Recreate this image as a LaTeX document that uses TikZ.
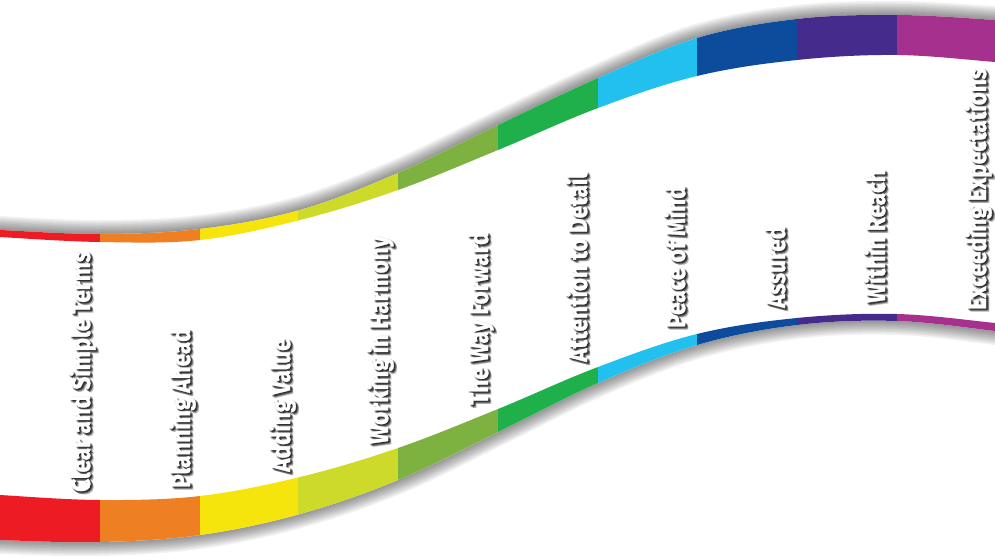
\documentclass[tikz,border=0pt]{standalone}
\usepackage{fontspec}
\newfontfamily\lblfont{Fira Sans}[BoldFeatures={FakeBold=1.3}]
\definecolor{cA}{HTML}{ED1C24}
\definecolor{cB}{HTML}{EE7F22}
\definecolor{cC}{HTML}{F5E50C}
\definecolor{cD}{HTML}{CEDA2A}
\definecolor{cE}{HTML}{7DB240}
\definecolor{cF}{HTML}{1FB04B}
\definecolor{cG}{HTML}{22C0EF}
\definecolor{cH}{HTML}{0D4C9C}
\definecolor{cI}{HTML}{452C8C}
\definecolor{cJ}{HTML}{A6308E}
\def\ribbonpath{plot[smooth,tension=0.6] coordinates {(-40,228) (0,230) (100,234) (200,229) (300,210) (398,173) (498,125) (598,78) (697,38) (797,19) (897,15) (995,20) (1040,24)} -- plot[smooth,tension=0.6] coordinates {(1040,337) (995,331) (897,321) (797,325) (697,345) (598,383) (498,432) (398,480) (300,514) (200,535) (100,542) (0,540) (-40,537)} -- cycle}
\def\topband{plot[smooth,tension=0.6] coordinates {(-40,228) (0,230) (100,234) (200,229) (300,210) (398,173) (498,125) (598,78) (697,38) (797,19) (897,15) (995,20) (1040,24)} -- plot[smooth,tension=0.6] coordinates {(1040,66) (995,62) (897,55) (797,60) (697,76) (598,108) (498,150) (398,190) (300,220) (200,240) (100,242) (0,237) (-40,234)} -- cycle}
\def\botband{plot[smooth,tension=0.6] coordinates {(-40,492) (0,495) (100,500) (200,496) (300,477) (398,448) (498,409) (598,367) (697,334) (797,318) (897,314) (995,323) (1040,328)} -- plot[smooth,tension=0.6] coordinates {(1040,337) (995,331) (897,321) (797,325) (697,345) (598,383) (498,432) (398,480) (300,514) (200,535) (100,542) (0,540) (-40,537)} -- cycle}
\newcommand\ribbonlabel[4]{%
  \foreach \dx/\dy [count=\k] in {0.8/0.8,1.6/1.6,2.4/2.4,1.6/0.4,0.4/1.6,2.6/1.4,1.4/2.6,3.2/3.2}
    \node[lbl,text=black,text opacity=0.19] (#1s\k) at ([shift={(\dx,\dy)}]#2,#3) {\scalebox{0.865}[1]{#4}};
  \node[lbl,text=white] (#1) at (#2,#3) {\scalebox{0.865}[1]{#4}};
}
\begin{document}
\begin{tikzpicture}[x=1pt,y=-1pt,
  lbl/.style={rotate=90,anchor=base west,inner sep=0pt,font=\lblfont\bfseries\fontsize{26}{26}\selectfont}]
\useasboundingbox (0,0) rectangle (995,559);
\clip (0,0) rectangle (995,559);
\fill[white] (0,0) rectangle (995,559);
% glow shadow
\foreach \w in {28,25,...,1}
  \draw[black,opacity=0.05,line width=\w pt,line join=round] \ribbonpath;
\fill[white] \ribbonpath;
% colour segments
\foreach \xa/\xb/\col in {-50/100/cA,100/200/cB,200/298/cC,298/398/cD,398/498/cE,498/598/cF,598/697/cG,697/797/cH,797/897/cI,897/1060/cJ}{
  \begin{scope}
    \clip (\xa,-50) rectangle (\xb,650);
    \fill[\col] \topband;
    \fill[\col] \botband;
  \end{scope}
}
% labels
\ribbonlabel{l1}{90}{492}{Clear and Simple Terms}
\ribbonlabel{l2}{190}{488}{Planning Ahead}
\ribbonlabel{l3}{290}{472}{Adding Value}
\ribbonlabel{l4}{388}{444}{Working in Harmony}
\ribbonlabel{l5}{488}{405}{The Way Forward}
\ribbonlabel{l6}{587}{362}{Attention to Detail}
\ribbonlabel{l7}{685}{328}{Peace of Mind}
\ribbonlabel{l8}{785}{308}{Assured}
\ribbonlabel{l9}{885}{303}{Within Reach}
\ribbonlabel{l10}{986}{310}{Exceeding Expectations}
\end{tikzpicture}
\end{document}
